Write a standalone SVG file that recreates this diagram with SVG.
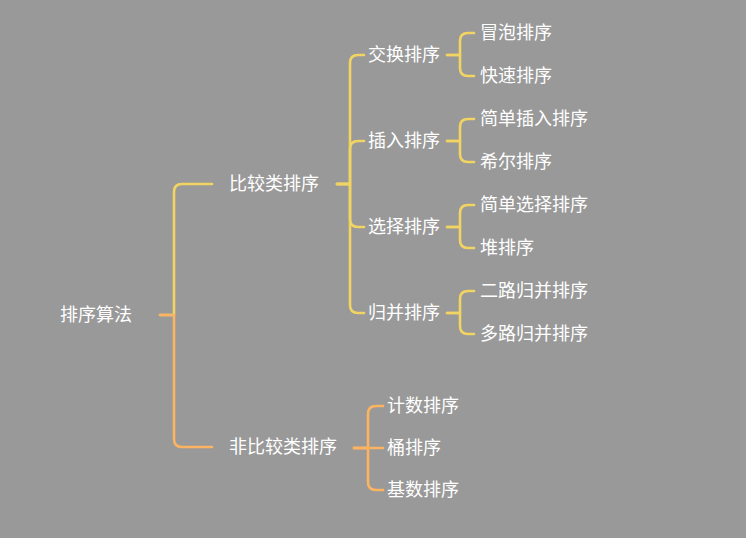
<svg xmlns="http://www.w3.org/2000/svg" width="746" height="538" viewBox="0 0 746 538">
<style>
text{font-family:"Noto Sans CJK SC","Noto Sans",sans-serif;font-size:18px;fill:#ffffff;dominant-baseline:central}
.c path{fill:none;stroke-width:2.6;stroke-linecap:round;stroke-linejoin:round}
.y{stroke:#F2D462}
.o{stroke:#FDB462}
</style>
<rect width="746" height="538" fill="#999999"/>
<g class="c" id="connectors">
<path class="y" d="M160,315 H174 V192 Q174,184 182,184 H212"/>
<path class="o" d="M160,315 H174 V439 Q174,447 182,447 H212"/>
<path class="y" d="M337,184 H350 V63 Q350,55 358,55 H364"/>
<path class="y" d="M337,184 H350 V149 Q350,141 358,141 H364"/>
<path class="y" d="M337,184 H350 V219 Q350,227 358,227 H364"/>
<path class="y" d="M337,184 H350 V305 Q350,313 358,313 H364"/>
<path class="y" d="M447,55 H460 V41 Q460,33 468,33 H474"/>
<path class="y" d="M447,55 H460 V68 Q460,76 468,76 H474"/>
<path class="y" d="M447,141 H460 V127 Q460,119 468,119 H474"/>
<path class="y" d="M447,141 H460 V154 Q460,162 468,162 H474"/>
<path class="y" d="M447,227 H460 V213 Q460,205 468,205 H474"/>
<path class="y" d="M447,227 H460 V240 Q460,248 468,248 H474"/>
<path class="y" d="M447,313 H460 V299 Q460,291 468,291 H474"/>
<path class="y" d="M447,313 H460 V326 Q460,334 468,334 H474"/>
<path class="o" d="M354,448 H368 V414 Q368,406 376,406 H383"/>
<path class="o" d="M354,448 H383"/>
<path class="o" d="M354,448 H368 V482 Q368,490 376,490 H383"/>
</g>
<g id="root"><text x="60" y="313">排序算法</text></g>
<g id="n-compare"><text x="229" y="182">比较类排序</text></g>
<g id="n-noncompare"><text x="229" y="445">非比较类排序</text></g>
<g id="n-swap"><text x="368" y="53">交换排序</text></g>
<g id="n-insert"><text x="368" y="139">插入排序</text></g>
<g id="n-select"><text x="368" y="225">选择排序</text></g>
<g id="n-merge"><text x="368" y="311">归并排序</text></g>
<g id="n-bubble"><text x="480" y="31">冒泡排序</text></g>
<g id="n-quick"><text x="480" y="74">快速排序</text></g>
<g id="n-sinsert"><text x="480" y="117">简单插入排序</text></g>
<g id="n-shell"><text x="480" y="160">希尔排序</text></g>
<g id="n-sselect"><text x="480" y="203">简单选择排序</text></g>
<g id="n-heap"><text x="480" y="246">堆排序</text></g>
<g id="n-merge2"><text x="480" y="289">二路归并排序</text></g>
<g id="n-mergek"><text x="480" y="332">多路归并排序</text></g>
<g id="n-count"><text x="387" y="404">计数排序</text></g>
<g id="n-bucket"><text x="387" y="446">桶排序</text></g>
<g id="n-radix"><text x="387" y="488">基数排序</text></g>
</svg>
